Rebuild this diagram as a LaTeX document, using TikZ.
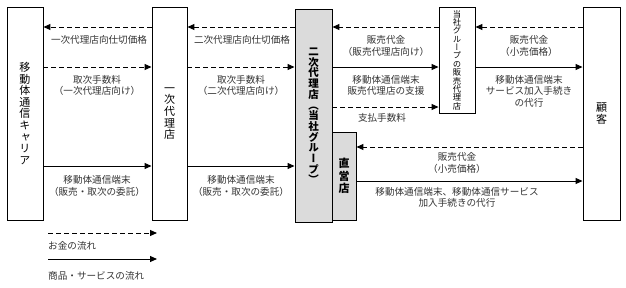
\documentclass[tikz,border=0pt]{standalone}
\usepackage{fontspec}
\newfontfamily\jp{Noto Sans CJK JP}
\newfontfamily\jpv[RawFeature=+vert]{Noto Sans CJK JP}
\usetikzlibrary{arrows.meta}
\begin{document}
\begin{tikzpicture}[x=1pt,y=-1pt,
  box/.style={draw, line width=0.9pt, inner sep=0pt, align=center},
  grayfill/.style={fill=black!14},
  vt/.style={font=\jpv\fontsize{11}{11.6}\selectfont},
  vtb/.style={font=\jpv\bfseries\fontsize{10.5}{10.7}\selectfont},
  lbl/.style={font=\jp\fontsize{9.6}{11.5}\selectfont, text=black!80, align=center, inner sep=0pt},
  lgl/.style={font=\jp\fontsize{9.6}{11.5}\selectfont, text=black!80, anchor=west, inner sep=0pt},
  money/.style={line width=1pt, dash pattern=on 5pt off 3pt, -{Triangle[length=7pt,width=6pt]}},
  goods/.style={line width=1pt, -{Triangle[length=7pt,width=6pt]}}
]
\useasboundingbox (0,0) rectangle (626,287);

% boxes
\node[box, vt, minimum width=36pt, minimum height=213pt] (car) at (25,113.5)
  {移\\動\\体\\通\\信\\キ\\ャ\\リ\\ア};
\node[box, vt, minimum width=35pt, minimum height=213pt] (ag1) at (169.5,113.5)
  {一\\次\\代\\理\\店};
\node[box, grayfill, vtb, minimum width=37pt, minimum height=213pt] (ag2) at (313.5,116)
  {二\\次\\代\\理\\店\\（\\当\\社\\グ\\ル\\ー\\プ\\）};
\node[box, grayfill, font=\jp\bfseries\fontsize{11}{12.5}\selectfont, minimum width=24pt, minimum height=88pt] (dir) at (344,176)
  {直\\営\\店};
\node[box, fill=white, font=\jpv\fontsize{8.3}{8.35}\selectfont, minimum width=36pt, minimum height=106pt] (sal) at (457,60)
  {当\\社\\グ\\ル\\ー\\プ\\の\\販\\売\\代\\理\\店};
\node[box, font=\jp\fontsize{11}{12}\selectfont, minimum width=37pt, minimum height=213pt] (cus) at (601.5,113.5)
  {顧\\客};

% carrier <-> first agency
\draw[money] (ag1.west |- 0,27) -- (car.east |- 0,27);
\node[lbl] (l1) at (99,40) {一次代理店向仕切価格};
\draw[money] (car.east |- 0,67) -- (ag1.west |- 0,67);
\node[lbl] (l2) at (97,85.5) {取次手数料\\（一次代理店向け）};
\draw[goods] (car.east |- 0,166) -- (ag1.west |- 0,166);
\node[lbl] (l3) at (97,186) {移動体通信端末\\（販売・取次の委託）};

% first agency <-> second agency
\draw[money] (ag2.west |- 0,27) -- (ag1.east |- 0,27);
\node[lbl] (l4) at (242,40) {二次代理店向仕切価格};
\draw[money] (ag1.east |- 0,67) -- (ag2.west |- 0,67);
\node[lbl] (l5) at (241,85.5) {取次手数料\\（二次代理店向け）};
\draw[goods] (ag1.east |- 0,166) -- (ag2.west |- 0,166);
\node[lbl] (l6) at (241,186) {移動体通信端末\\（販売・取次の委託）};

% second agency <-> group sales agency
\draw[money] (sal.west |- 0,27) -- (ag2.east |- 0,27);
\node[lbl] (l7) at (386,46) {販売代金\\（販売代理店向け）};
\draw[goods] (ag2.east |- 0,67) -- (sal.west |- 0,67);
\node[lbl] (l8) at (386,85.5) {移動体通信端末\\販売代理店の支援};
\draw[money] (ag2.east |- 0,107) -- (sal.west |- 0,107);
\node[lbl] (l9) at (382,118) {支払手数料};

% group sales agency <-> customer
\draw[money] (cus.west |- 0,27) -- (sal.east |- 0,27);
\node[lbl] (l10) at (529,46) {販売代金\\（小売価格）};
\draw[goods] (sal.east |- 0,67) -- (cus.west |- 0,67);
\node[lbl] (l11) at (529,91) {移動体通信端末\\サービス加入手続き\\の代行};

% direct store <-> customer
\draw[money] (cus.west |- 0,147) -- (dir.east |- 0,147);
\node[lbl] (l12) at (457,163) {販売代金\\（小売価格）};
\draw[goods] (dir.east |- 0,181) -- (cus.west |- 0,181);
\node[lbl] (l13) at (457,197.5) {移動体通信端末、移動体通信サービス\\加入手続きの代行};

% legend
\coordinate (lg1a) at (48,233);
\coordinate (lg1b) at (157,233);
\draw[money] (lg1a) -- (lg1b);
\node[lgl] (lg1) at (48,246) {お金の流れ};
\coordinate (lg2a) at (48,259);
\coordinate (lg2b) at (157,259);
\draw[goods] (lg2a) -- (lg2b);
\node[lgl] (lg2) at (48,276) {商品・サービスの流れ};
\end{tikzpicture}
\end{document}
